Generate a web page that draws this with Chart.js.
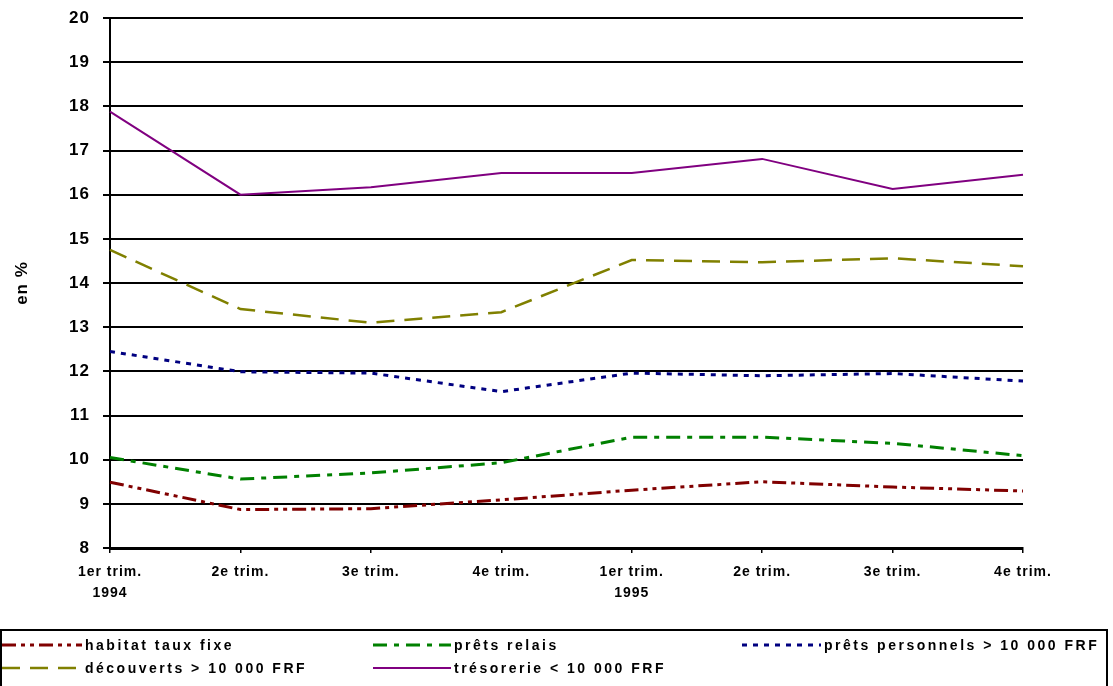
<!DOCTYPE html>
<html>
<head>
<meta charset="utf-8">
<script src="https://cdn.jsdelivr.net/npm/chart.js@4/dist/chart.umd.min.js"></script>
<style>
  html, body { margin: 0; padding: 0; background: #fff; }
  #wrap { width: 1113px; height: 686px; }
</style>
</head>
<body>
<div id="wrap"><canvas id="c" width="1113" height="686"></canvas></div>
<script>
// categories (trimestres)
var trimestres = [['1er trim.', '1994'], '2e trim.', '3e trim.', '4e trim.', ['1er trim.', '1995'], '2e trim.', '3e trim.', '4e trim.'];

// taux en %
var habitatTauxFixe   = [9.49, 8.87, 8.89, 9.09, 9.31, 9.50, 9.38, 9.29];
var pretsRelais       = [10.05, 9.56, 9.70, 9.93, 10.51, 10.51, 10.37, 10.09];
var pretsPersonnels   = [12.45, 11.99, 11.96, 11.54, 11.96, 11.90, 11.95, 11.78];
var decouverts        = [14.75, 13.41, 13.10, 13.34, 14.52, 14.47, 14.56, 14.38];
var tresorerie        = [17.88, 16.00, 16.17, 16.49, 16.49, 16.81, 16.13, 16.45];

var labelsSeries = ['habitat taux fixe', 'prêts relais', 'prêts personnels > 10 000 FRF', 'découverts > 10 000 FRF', 'trésorerie < 10 000 FRF'];

var yMin = 8, yMax = 20;

var FONT = '"Liberation Sans", Arial, sans-serif';

// legende encadree en bas, dessinee a la main
var legendeBas = {
    id: 'legendeBas',
    afterDraw: function (chart) {
        var ctx = chart.ctx;
        ctx.save();
        ctx.letterSpacing = '0px';
        ctx.strokeStyle = '#000';
        ctx.lineWidth = 2;
        ctx.strokeRect(1, 630, 1106, 70);

        var cols = [{ x: 2, tx: 85 }, { x: 373, tx: 454 }, { x: 742, tx: 824 }];
        var rows = [645, 668];
        var ds = chart.data.datasets;
        for (var i = 0; i < ds.length; i++) {
            var c = cols[i % 3], y = rows[Math.floor(i / 3)];
            ctx.beginPath();
            ctx.setLineDash(ds[i].borderDash || []);
            ctx.strokeStyle = ds[i].borderColor;
            ctx.lineWidth = ds[i].borderWidth;
            ctx.moveTo(c.x, y);
            ctx.lineTo(c.tx - 3, y);
            ctx.stroke();
            ctx.setLineDash([]);
            ctx.fillStyle = '#000';
            ctx.font = 'bold 14px ' + FONT;
            ctx.letterSpacing = '2.5px';
            ctx.textBaseline = 'middle';
            ctx.textAlign = 'left';
            ctx.fillText(ds[i].label, c.tx, y + 1);
            ctx.letterSpacing = '0px';
        }
        ctx.restore();
    }
};

// espacement des lettres pour les axes
var espacement = {
    id: 'espacement',
    beforeDraw: function (chart) { chart.ctx.letterSpacing = '1px'; },
    beforeDatasetsDraw: function (chart) { chart.ctx.letterSpacing = '0px'; }
};

var chart = new Chart(document.getElementById('c'), {
    type: 'line',
    data: {
        labels: trimestres,
        datasets: [
            { label: labelsSeries[0], data: habitatTauxFixe, borderColor: '#800000', borderWidth: 3, borderDash: [14, 5, 4, 5, 4, 5] },
            { label: labelsSeries[1], data: pretsRelais, borderColor: '#008000', borderWidth: 3, borderDash: [14, 7, 5, 7] },
            { label: labelsSeries[2], data: pretsPersonnels, borderColor: '#000080', borderWidth: 3, borderDash: [5, 6] },
            { label: labelsSeries[3], data: decouverts, borderColor: '#808000', borderWidth: 2.5, borderDash: [18, 10] },
            { label: labelsSeries[4], data: tresorerie, borderColor: '#800080', borderWidth: 2 }
        ]
    },
    options: {
        responsive: false,
        animation: false,
        elements: { point: { radius: 0 }, line: { tension: 0 } },
        layout: { padding: { left: 0, right: 90, top: 18, bottom: 0 } },
        plugins: {
            legend: { display: false },
            tooltip: { enabled: false }
        },
        scales: {
            x: {
                type: 'category',
                offset: false,
                afterFit: function (s) { s.height = 138; },
                grid: { display: true, drawOnChartArea: false, color: '#000', lineWidth: 1.5, tickLength: 5 },
                border: { display: true, color: '#000', width: 3 },
                ticks: {
                    color: '#000', padding: 9, maxRotation: 0, autoSkip: false,
                    font: { family: FONT, size: 14, weight: 'bold', lineHeight: 1.5 }
                }
            },
            y: {
                min: yMin, max: yMax,
                afterFit: function (s) { s.width = 110; s.paddingTop = 0; s.paddingBottom = 0; },
                grid: { color: '#000', lineWidth: 2, tickLength: 7 },
                border: { display: true, color: '#000', width: 2 },
                ticks: {
                    stepSize: 1, color: '#000', padding: 13,
                    font: { family: FONT, size: 17, weight: 'bold', lineHeight: 1 }
                },
                title: {
                    display: true, text: 'en %', color: '#000',
                    padding: { top: 12, bottom: 0 },
                    font: { family: FONT, size: 17, weight: 'bold' }
                }
            }
        }
    },
    plugins: [espacement, legendeBas]
});
</script>
</body>
</html>
